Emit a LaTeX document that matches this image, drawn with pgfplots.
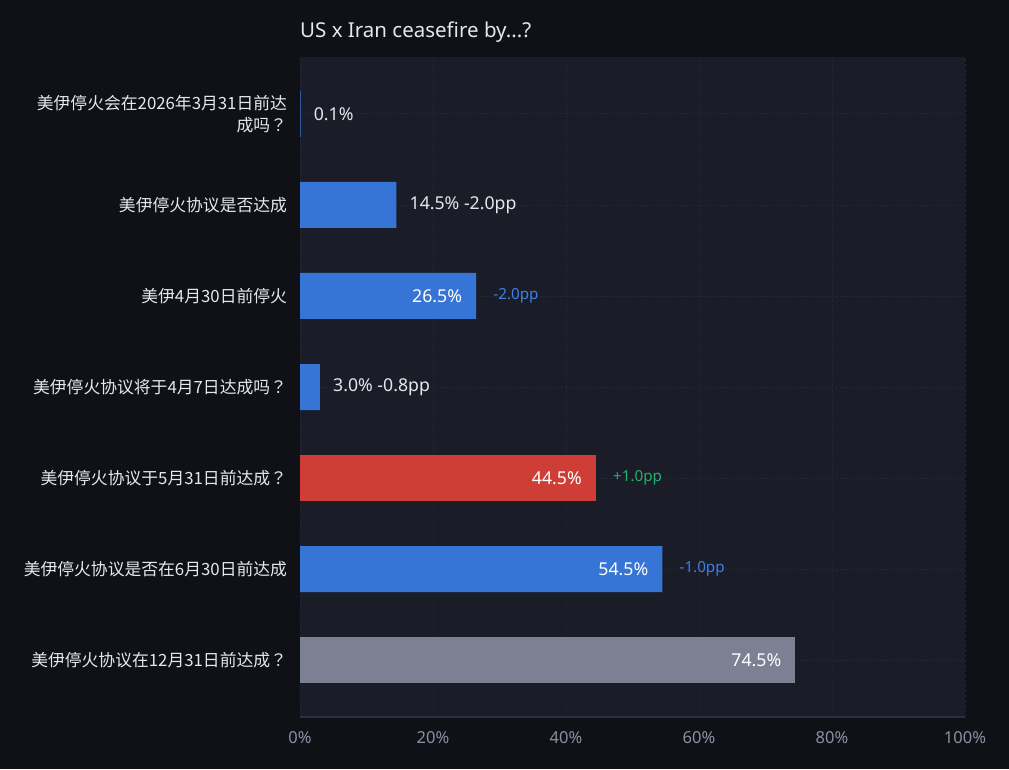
\documentclass[border=0pt]{standalone}
\usepackage{pgfplots}
\pgfplotsset{compat=1.18}
\usepackage{fontspec}
\setmainfont{Noto Sans}
\newfontfamily\cjk{Noto Sans CJK SC}
\newfontfamily\cjktc{Noto Sans CJK TC}
\newcommand\qm{{\cjktc ？}}
\definecolor{bgc}{HTML}{101116}
\definecolor{plotbg}{HTML}{1A1C28}
\definecolor{gridc}{HTML}{222533}
\definecolor{axisc}{HTML}{2C2F3E}
\definecolor{barblue}{HTML}{3674D6}
\definecolor{barred}{HTML}{CF3E36}
\definecolor{bargray}{HTML}{7B8092}
\definecolor{txt}{HTML}{E6E7EC}
\definecolor{tickc}{HTML}{8A8FA3}
\definecolor{dblue}{HTML}{3B80EC}
\definecolor{dgreen}{HTML}{22B26A}
\newcommand\vf{\fontsize{17.7}{20}\selectfont}
\newcommand\df{\fontsize{15.2}{18}\selectfont}
\begin{document}
\begin{tikzpicture}
\fill[bgc] (0,0) rectangle (1009pt,769pt);
\useasboundingbox (0,0) rectangle (1009pt,769pt);
\node[anchor=west, inner sep=0pt, text=txt, font=\fontsize{20.5}{24}\selectfont] at (300pt,737pt) {US x Iran ceasefire by...?};
\begin{axis}[
  at={(300pt,52pt)}, anchor=south west,
  scale only axis, width=665pt, height=660pt,
  xmin=0, xmax=100, ymin=-0.625, ymax=6.625,
  xbar, bar width=46pt, bar shift=0pt,
  axis background/.style={fill=plotbg},
  axis x line*=bottom, axis y line*=left,
  x axis line style={draw=axisc, line width=2pt, -},
  y axis line style={draw=none},
  major tick length=0pt,
  xtick={0,20,40,60,80,100},
  xticklabels={0\%,20\%,40\%,60\%,80\%,100\%},
  xticklabel style={text=tickc, font=\fontsize{16.5}{19}\selectfont, yshift=-11pt},
  ytick={0,1,2,3,4,5,6},
  yticklabels={
    {美伊停火协议在12月31日前达成\qm},
    {美伊停火协议是否在6月30日前达成},
    {美伊停火协议于5月31日前达成\qm},
    {美伊停火协议将于4月7日达成吗\qm},
    {美伊4月30日前停火},
    {美伊停火协议是否达成},
    {美伊停火会在2026年3月31日前达\\成吗\qm}},
  yticklabel style={text=txt, font=\cjk\fontsize{16.8}{21.5}\selectfont, align=right, xshift=-9.5pt},
  xmajorgrids, ymajorgrids,
  major grid style={draw=gridc, dash pattern=on 2.5pt off 2.5pt, line width=0.8pt},
  clip=false,
]
\addplot[fill=barblue, draw=none] coordinates {(0.1,6) (14.5,5) (26.5,4) (3.0,3) (54.5,1)};
\addplot[fill=barred, draw=none] coordinates {(44.5,2)};
\addplot[fill=bargray, draw=none] coordinates {(74.5,0)};
% labels outside
\node[anchor=west, inner sep=0pt, text=txt, font=\vf, xshift=13pt] at (axis cs:0.1,6) {0.1\%};
\node[anchor=west, inner sep=0pt, text=txt, font=\vf, xshift=13pt] at (axis cs:14.5,5) {14.5\% -2.0pp};
\node[anchor=west, inner sep=0pt, text=txt, font=\vf, xshift=13pt] at (axis cs:3.0,3) {3.0\% -0.8pp};
% labels inside
\node[anchor=east, inner sep=0pt, text=white, font=\vf, xshift=-14pt] at (axis cs:26.5,4) {26.5\%};
\node[anchor=east, inner sep=0pt, text=white, font=\vf, xshift=-14pt] at (axis cs:44.5,2) {44.5\%};
\node[anchor=east, inner sep=0pt, text=white, font=\vf, xshift=-14pt] at (axis cs:54.5,1) {54.5\%};
\node[anchor=east, inner sep=0pt, text=white, font=\vf, xshift=-14pt] at (axis cs:74.5,0) {74.5\%};
% deltas
\node[anchor=west, inner sep=0pt, text=dblue, font=\df, xshift=17pt] at (axis cs:26.5,4) {-2.0pp};
\node[anchor=west, inner sep=0pt, text=dgreen, font=\df, xshift=17pt] at (axis cs:44.5,2) {+1.0pp};
\node[anchor=west, inner sep=0pt, text=dblue, font=\df, xshift=17pt] at (axis cs:54.5,1) {-1.0pp};
\end{axis}
\end{tikzpicture}
\end{document}
